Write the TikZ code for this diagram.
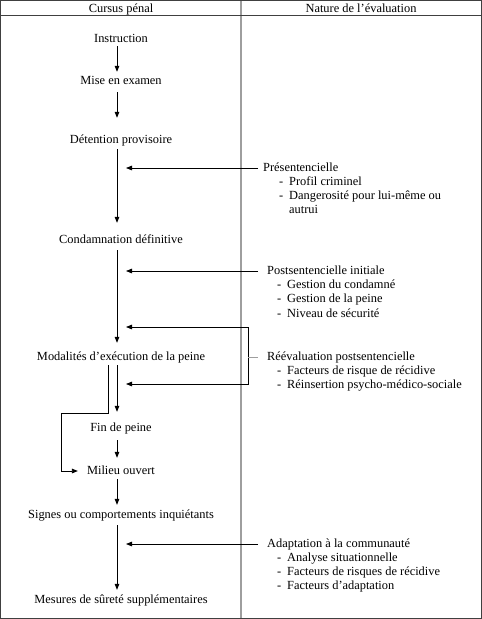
\documentclass[tikz,border=0pt]{standalone}
\usepackage{fontspec}
\setmainfont{Liberation Serif}
\usetikzlibrary{arrows.meta}
\begin{document}
\begin{tikzpicture}[x=1pt,y=-1pt,
  every node/.style={font=\fontsize{12.4}{14}\selectfont, inner sep=0pt},
  main/.style={anchor=base, text height=9pt, text depth=3pt},
  lab/.style={anchor=base west, text height=9pt, text depth=3pt},
  tip/.style={Triangle[length=6pt,width=4.6pt]},
  arr/.style={draw=black, line width=0.8pt, -{Triangle[length=6pt,width=4.6pt]}},
  arrboth/.style={draw=black, line width=0.8pt, {Triangle[length=6pt,width=4.6pt]}-{Triangle[length=6pt,width=4.6pt]}},
  frame/.style={draw=black!75, line width=1.3pt},
  divider/.style={draw=black!38, line width=2pt},
  tick/.style={draw=black!38, line width=1pt}]
\useasboundingbox (0,0) rectangle (482,619);
% table frame
\draw[divider] (241,0) -- (241,619);
\draw[frame] (0.7,0.7) rectangle (481.3,618.3);
\draw[frame] (0,15.5) -- (482,15.5);
\node[main] (h1) at (121,12) {Cursus pénal};
\node[main] (h2) at (361,12) {Nature de l’évaluation};
% main column
\node[main] (instr) at (121,42) {Instruction};
\node[main] (mise) at (121,84) {Mise en examen};
\node[main] (det) at (121,143) {Détention provisoire};
\node[main] (cond) at (121,243) {Condamnation définitive};
\node[main] (mod) at (121,360) {Modalités d’exécution de la peine};
\node[main] (fin) at (121,431) {Fin de peine};
\node[main] (mil) at (121,474) {Milieu ouvert};
\node[main] (sig) at (121,518) {Signes ou comportements inquiétants};
\node[main] (mes) at (121,603) {Mesures de sûreté supplémentaires};
\coordinate (spine) at (117,0);
\coordinate (tipx) at (126,0);
\draw[arr, shorten <=1pt, shorten >=3pt] (instr.south -| spine) -- (mise.north -| spine);
\draw[arr, shorten <=5pt, shorten >=16pt] (mise.south -| spine) -- (det.north -| spine);
\draw[arr, shorten <=3pt, shorten >=11pt] (det.south -| spine) -- (cond.north -| spine);
\draw[arr, shorten <=4pt, shorten >=8pt] (cond.south -| spine) -- (mod.north -| spine);
\draw[arr, shorten <=2pt, shorten >=10pt] (mod.south -| spine) -- (fin.north -| spine);
\draw[arr, shorten <=6pt, shorten >=7pt] (fin.south -| spine) -- (mil.north -| spine);
\draw[arr, shorten <=2pt, shorten >=4pt] (mil.south -| spine) -- (sig.north -| spine);
\draw[arr, shorten <=4pt, shorten >=4pt] (sig.south -| spine) -- (mes.north -| spine);
% left bypass loop
\coordinate (lx) at (108,0);
\coordinate (lc) at (61,413);
\draw[arr, shorten <=2pt, shorten >=9pt] (mod.south -| lx) -- (lx |- lc) -- (lc) |- (mil.west);
% right column
\node[lab] (pres) at (263,171) {Présentencielle};
\node[lab] (pres1) at (279,185) {\makebox[10pt][l]{-}Profil criminel};
\node[lab] (pres2) at (279,199.5) {\makebox[10pt][l]{-}Dangerosité pour lui-même ou};
\node[lab] (pres3) at (289,213.5) {autrui};
\node[lab] (post) at (267,274) {Postsentencielle initiale};
\node[lab] (post1) at (277,288.5) {\makebox[10pt][l]{-}Gestion du condamné};
\node[lab] (post2) at (277,302.7) {\makebox[10pt][l]{-}Gestion de la peine};
\node[lab] (post3) at (277,317) {\makebox[10pt][l]{-}Niveau de sécurité};
\node[lab] (reev) at (267,360) {Réévaluation postsentencielle};
\node[lab] (reev1) at (277,374) {\makebox[10pt][l]{-}Facteurs de risque de récidive};
\node[lab] (reev2) at (277,388) {\makebox[10pt][l]{-}Réinsertion psycho-médico-sociale};
\node[lab] (adap) at (267,547) {Adaptation à la communauté};
\node[lab] (adap1) at (277,561) {\makebox[10pt][l]{-}Analyse situationnelle};
\node[lab] (adap2) at (277,575) {\makebox[10pt][l]{-}Facteurs de risques de récidive};
\node[lab] (adap3) at (277,589) {\makebox[10pt][l]{-}Facteurs d’adaptation};
\draw[arr] ([xshift=-5pt]pres.west) -- (pres.west -| tipx);
\draw[arr] ([xshift=-9pt]post.west) -- (post.west -| tipx);
\draw[arr] ([xshift=-9pt]adap.west) -- (adap.west -| tipx);
% reevaluation loop
\coordinate (rtop) at (248,327);
\coordinate (rbot) at (248,384);
\draw[arrboth] (rtop -| tipx) -- (rtop) -- (rbot) -- (rbot -| tipx);
\draw[tick] (reev.west -| rtop) -- ([xshift=-9pt]reev.west);
\end{tikzpicture}
\end{document}
